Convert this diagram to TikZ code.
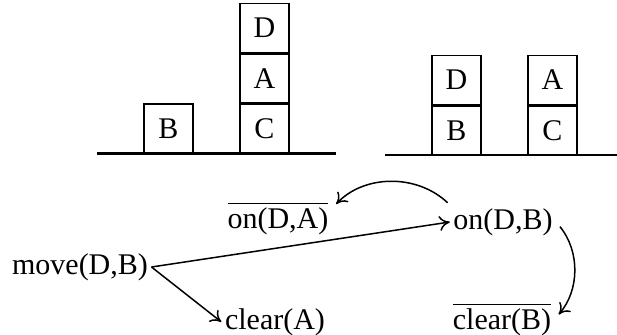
\documentclass[tikz,border=0pt]{standalone}
\usepackage{fontspec}
\setmainfont{Liberation Serif}
\usetikzlibrary{positioning,arrows.meta}

\begin{document}
\begin{tikzpicture}[x=0.3333pt,y=0.3333pt,
    block/.style={draw,line width=0.5pt,minimum size=16.33pt,inner sep=0pt,font=\fontsize{10}{12}\selectfont},
    fact/.style={inner sep=1pt,font=\fontsize{10}{12}\selectfont},
    ground/.style={line width=0.8pt},
    effect/.style={-{To[length=3.5pt,width=5pt]},line width=0.5pt}]
    \useasboundingbox (0,0) rectangle (617,-334);

    %start
    \draw[ground] (97,-153.5) -- (336,-153.5);
    \node[block] (b1) at (168.5,-128.5) {B};
    \node[block] (c1) at (264.5,-129) {C};
    \node[block,above=0pt of c1] (a1) {A};
    \node[block,above=0pt of a1] (d1) {D};

    %goal
    \draw[ground] (385,-155) -- (617,-155);
    \node[block] (b2) at (456.5,-130.5) {B};
    \node[block,above=0pt of b2] (d2) {D};
    \node[block] (c2) at (552.5,-130.5) {C};
    \node[block,above=0pt of c2] (a2) {A};

    %action and effects
    \node[fact] (move) at (80,-267) {move(D,B)};
    \node[fact] (onda) at (278,-218) {$\overline{\mbox{on(D,A)}}$};
    \node[fact] (ondb) at (503,-222) {on(D,B)};
    \node[fact] (cleara) at (275,-322) {clear(A)};
    \node[fact] (clearb) at (502,-319) {$\overline{\mbox{clear(B)}}$};

    \draw[effect] (move.east) -- (ondb.west);
    \draw[effect] (move.east) -- (cleara.west);
    \draw[effect,shorten <=1pt,shorten >=2pt] (ondb.north west) to[bend right=45] (onda.10);
    \draw[effect,shorten <=2pt,shorten >=2pt] (ondb.east) to[bend left=40] (clearb.east);

\end{tikzpicture}
\end{document}
